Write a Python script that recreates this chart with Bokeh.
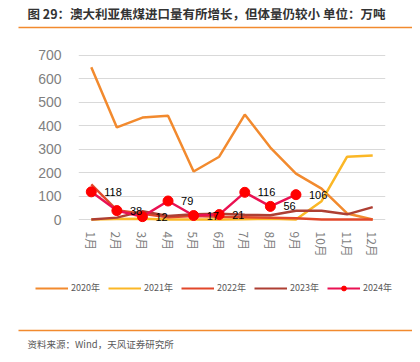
from bokeh.plotting import figure
from bokeh.models import (FactorRange, Range1d, Label, Legend, LegendItem,
                          FixedTicker, ColumnDataSource)
from bokeh.layouts import column
from bokeh.core.properties import value
from bokeh.embed import file_html
from bokeh.resources import INLINE

months = ["1月", "2月", "3月", "4月", "5月", "6月", "7月", "8月", "9月", "10月", "11月", "12月"]
y2020 = [650, 393, 435, 443, 205, 268, 448, 307, 196, 132, 26, 0]
y2021 = [0, 2, 3, 0, 0, 0, 1, 3, 0, 78, 268, 273]
y2022 = [150, 40, 25, 10, 15, 12, 10, 8, 5, 0, 0, 0]
y2023 = [0, 8, 35, 15, 22, 25, 20, 18, 37, 37, 22, 53]
y2024 = [118, 38, 12, 79, 17, 21, 116, 56, 106]
yticks = [0, 100, 200, 300, 400, 500, 600, 700]
series_names = ["2020年", "2021年", "2022年", "2023年", "2024年"]

title_text = "图 29：澳大利亚焦煤进口量有所增长，但体量仍较小 单位：万吨"
source_text = "资料来源：Wind，天风证券研究所"

CJK = "Noto Sans CJK SC"
colors = ["#F28A2E", "#FBB726", "#E2472A", "#AE3F33", "#EA1152"]
marker_color = "#FF0000"
rule_color = "#F28A2E"
W = 412


def bare(h):
    fig = figure(width=W, height=h, x_range=Range1d(0, W), y_range=Range1d(h, 0),
                 output_backend="svg", toolbar_location=None,
                 x_axis_type=None, y_axis_type=None, frame_align=False,
                 min_border=0, min_border_left=0, min_border_right=0,
                 min_border_top=0, min_border_bottom=0)
    fig.outline_line_color = None
    fig.background_fill_color = "white"
    fig.border_fill_color = "white"
    fig.grid.visible = False
    return fig


# ---- header ----
hdr = bare(40)
hdr.add_layout(Label(x=27, y=13, text=title_text, text_font=CJK, text_font_size="12.5px",
                     text_font_style="bold", text_color="#333333", text_baseline="middle"))
hdr.line([18, 412], [27, 27], line_color=rule_color, line_width=1.5)

# ---- main chart ----
p = figure(width=W, height=230, x_range=FactorRange(*months, range_padding=0),
           y_range=Range1d(-12.8, 712.8), output_backend="svg", toolbar_location=None,
           frame_align=False,
           min_border_left=78, min_border_right=27, min_border_top=12, min_border_bottom=48)
p.outline_line_color = None
p.background_fill_color = "white"
p.border_fill_color = "white"
p.xgrid.grid_line_color = None
p.ygrid.grid_line_color = "#D9D9D9"
p.ygrid.grid_line_width = 1

p.yaxis.ticker = FixedTicker(ticks=yticks)
for ax in (p.xaxis[0], p.yaxis[0]):
    ax.axis_line_color = None
    ax.major_tick_line_color = None
    ax.minor_tick_line_color = None
    ax.major_tick_out = 0
    ax.major_tick_in = 0
    ax.major_label_text_color = "#7F7F7F"
p.yaxis.major_label_text_font = "Liberation Sans"
p.yaxis.major_label_text_font_size = "14px"
p.yaxis.major_label_standoff = 17
p.xaxis.major_label_text_font = CJK
p.xaxis.major_label_text_font_size = "12px"
p.xaxis.major_label_orientation = "vertical"
p.xaxis.major_label_standoff = 9

lw = 2.5
for ys, c in zip([y2020, y2021, y2022, y2023], colors[:4]):
    p.line(months, ys, line_color=c, line_width=lw)
p.line(months[:9], y2024, line_color=colors[4], line_width=lw)
p.scatter(months[:9], y2024, size=10, fill_color=marker_color, line_color=marker_color)

src = ColumnDataSource(dict(x=months[:9], y=y2024, t=[str(v) for v in y2024]))
p.text(x="x", y="y", text="t", source=src, x_offset=13, text_baseline="middle",
       text_align="left", text_font=value("Liberation Sans"), text_font_size="11px",
       text_color="black")

# ---- footer: legend, rule, source ----
ftr = bare(84)
items = []
for name, c in zip(series_names, colors):
    # legend-only renderers placed outside the visible range
    r = ftr.line(x=[-50, -40], y=[-50, -50], line_color=c, line_width=2.2)
    rs = [r]
    if name == "2024年":
        rs.append(ftr.scatter(x=[-50], y=[-50], size=5, fill_color=marker_color,
                              line_color=marker_color))
    items.append(LegendItem(label=name, renderers=rs))
legend = Legend(items=items, orientation="horizontal", location=(35, 60), padding=0, margin=0,
                spacing=8, glyph_width=33, glyph_height=12, label_height=12, label_standoff=3,
                label_text_font=CJK, label_text_font_size="9px", label_text_color="#595959",
                border_line_color=None, background_fill_alpha=0)
ftr.add_layout(legend, "center")
ftr.line([18, 412], [60, 60], line_color=rule_color, line_width=1.5)
ftr.add_layout(Label(x=27, y=73, text=source_text, text_font=CJK, text_font_size="9.5px",
                     text_color="#595959", text_baseline="middle"))

layout = column(hdr, p, ftr, spacing=0)
open("out.html", "w").write(file_html(layout, INLINE))
